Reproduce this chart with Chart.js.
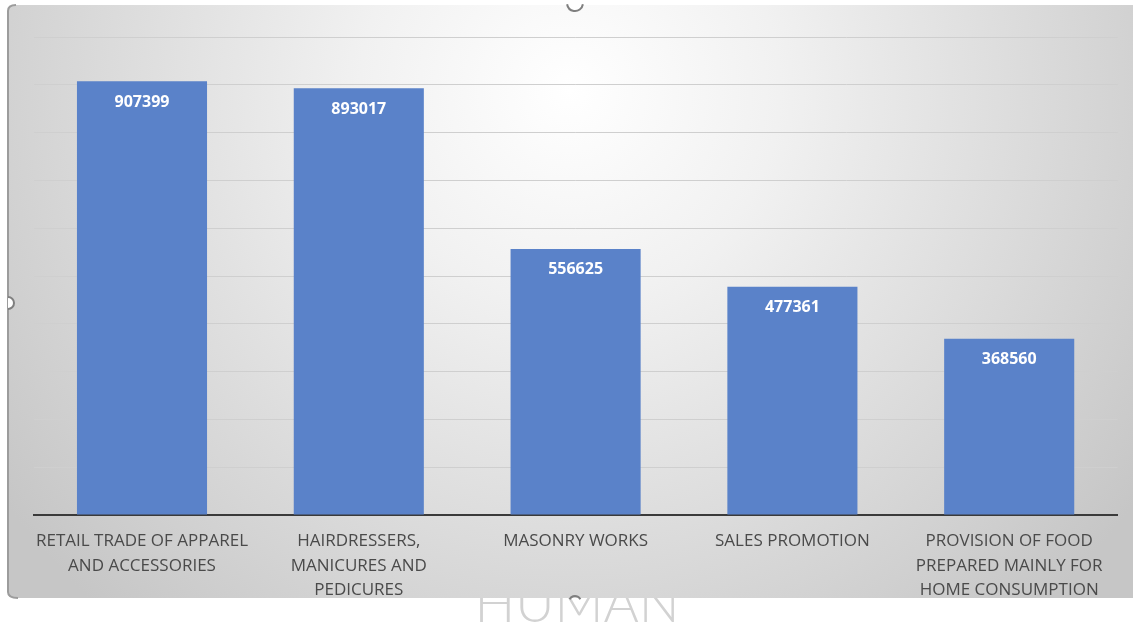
<!DOCTYPE html>
<html>
<head>
<meta charset="utf-8">
<script src="https://cdn.jsdelivr.net/npm/chart.js@4.4.1/dist/chart.umd.min.js"></script>
<style>
  html, body { margin: 0; padding: 0; background: #ffffff; }
  #wrap { width: 1133px; height: 626px; }
</style>
</head>
<body>
<div id="wrap"><canvas id="c" width="1133" height="626"></canvas></div>
<script>
const categories = [
  ["RETAIL TRADE OF APPAREL", "AND ACCESSORIES"],
  ["HAIRDRESSERS,", "MANICURES AND", "PEDICURES"],
  ["MASONRY WORKS"],
  ["SALES PROMOTION"],
  ["PROVISION OF FOOD", "PREPARED MAINLY FOR", "HOME CONSUMPTION"]
];
const values = [907399, 893017, 556625, 477361, 368560];
const yMax = 1000000;
const yStep = 100000;
const watermark = "HUMAN";

const framePlugin = {
  id: 'frame',
  beforeDraw(chart) {
    const ctx = chart.ctx;
    ctx.save();
    ctx.fillStyle = '#ffffff';
    ctx.fillRect(0, 0, chart.width, chart.height);
    // watermark partially hidden by the frame
    ctx.fillStyle = '#d2d2d2';
    ctx.font = '300 54px Lato, "Open Sans", sans-serif';
    ctx.textAlign = 'center';
    ctx.textBaseline = 'alphabetic';
    ctx.fillText(watermark, 577, 622);
    // frame
    const x0 = 8, y0 = 5, x1 = 1133, y1 = 598, r = 6;
    const g = ctx.createRadialGradient(570, 90, 0, 570, 90, 700);
    g.addColorStop(0, '#ffffff');
    g.addColorStop(0.3, '#f1f1f1');
    g.addColorStop(1, '#c6c6c6');
    ctx.beginPath();
    ctx.moveTo(x0 + r, y0);
    ctx.lineTo(x1, y0);
    ctx.lineTo(x1, y1);
    ctx.lineTo(x0 + r, y1);
    ctx.quadraticCurveTo(x0, y1, x0, y1 - r);
    ctx.lineTo(x0, y0 + r);
    ctx.quadraticCurveTo(x0, y0, x0 + r, y0);
    ctx.closePath();
    ctx.fillStyle = g;
    ctx.fill();
    // left border only
    ctx.beginPath();
    ctx.moveTo(x0 + r + 2, y0);
    ctx.quadraticCurveTo(x0, y0, x0, y0 + r);
    ctx.lineTo(x0, y1 - r);
    ctx.quadraticCurveTo(x0, y1, x0 + r + 4, y1);
    ctx.strokeStyle = '#9c9c9c';
    ctx.lineWidth = 2;
    ctx.stroke();
    ctx.restore();
  },
  afterDraw(chart) {
    const ctx = chart.ctx;
    ctx.save();
    ctx.strokeStyle = '#7f7f7f';
    ctx.lineWidth = 2;
    ctx.fillStyle = '#ffffff';
    // top handle
    ctx.beginPath();
    ctx.arc(575, 3, 8, 0, Math.PI * 2);
    ctx.fill();
    ctx.beginPath();
    ctx.arc(575, 3, 8, 0.05 * Math.PI, 0.95 * Math.PI);
    ctx.stroke();
    // left handle
    ctx.beginPath();
    ctx.arc(8, 303, 6, -Math.PI / 2, Math.PI / 2);
    ctx.fill();
    ctx.stroke();
    // bottom handle
    ctx.beginPath();
    ctx.arc(575, 602, 6, 1.15 * Math.PI, 1.85 * Math.PI);
    ctx.stroke();
    ctx.restore();
  }
};

const labelPlugin = {
  id: 'barLabels',
  afterDatasetsDraw(chart) {
    const ctx = chart.ctx;
    const meta = chart.getDatasetMeta(0);
    ctx.save();
    ctx.fillStyle = '#ffffff';
    ctx.font = 'bold 16px "Open Sans", sans-serif';
    ctx.textAlign = 'center';
    ctx.textBaseline = 'middle';
    meta.data.forEach((bar, i) => {
      ctx.fillText(String(values[i]), bar.x, bar.y + 21);
    });
    ctx.restore();
  }
};

new Chart(document.getElementById('c'), {
  type: 'bar',
  data: {
    labels: categories,
    datasets: [{
      data: values,
      backgroundColor: '#5a82c9',
      borderWidth: 0,
      barPercentage: 0.6,
      categoryPercentage: 1.0
    }]
  },
  options: {
    responsive: false,
    devicePixelRatio: 1,
    animation: false,
    layout: { padding: { left: 33.6, right: 15.4, top: 37, bottom: 0 } },
    plugins: { legend: { display: false }, tooltip: { enabled: false }, title: { display: false } },
    scales: {
      x: {
        grid: { display: false, drawTicks: false },
        border: { display: true, color: '#3a3a3a', width: 2 },
        ticks: {
          color: '#4a4a4a',
          padding: 14,
          maxRotation: 0,
          autoSkip: false,
          font: { family: '"Open Sans", sans-serif', size: 17, lineHeight: '24.5px' }
        },
        afterFit(scale) { scale.height = 111; }
      },
      y: {
        min: 0,
        max: yMax,
        grid: { color: '#cfcfcf', lineWidth: 1, drawTicks: false },
        border: { display: false },
        ticks: { display: false, stepSize: yStep },
        afterFit(scale) { scale.width = 0; }
      }
    }
  },
  plugins: [framePlugin, labelPlugin]
});
</script>
</body>
</html>
